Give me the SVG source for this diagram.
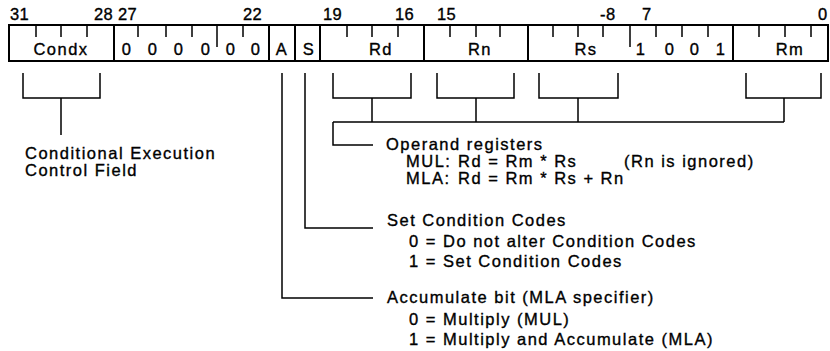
<svg xmlns="http://www.w3.org/2000/svg" width="830" height="351" viewBox="0 0 830 351">
<style>
text { font-family: "Liberation Sans", Arial, Helvetica, sans-serif; font-size: 16.5px; fill: #000; stroke: #000; stroke-width: 0.35px; letter-spacing: 1.5px; }
.num { letter-spacing: 0.4px; }
.c { text-anchor: middle; }
.box { fill: #fff; stroke: #000; stroke-width: 2; }
.div { stroke: #000; stroke-width: 2; }
.tick { stroke: #000; stroke-width: 1.5; }
.ln { fill: none; stroke: #000; stroke-width: 1.5; }
</style>
<rect width="830" height="351" fill="#fff"/>

<g id="bit-numbers">
  <text class="num" x="10" y="20">31</text>
  <text class="num" x="94" y="20">28</text>
  <text class="num" x="118" y="20">27</text>
  <text class="num" x="243" y="20">22</text>
  <text class="num" x="323" y="20">19</text>
  <text class="num" x="395" y="20">16</text>
  <text class="num" x="437" y="20">15</text>
  <text class="num" x="600" y="20">-8</text>
  <text class="num" x="642" y="20">7</text>
  <text class="num" x="818" y="20">0</text>
</g>

<g id="register">
  <rect class="box" x="9" y="25" width="819" height="36"/>
  <g id="dividers">
    <line class="div" x1="114" y1="25" x2="114" y2="61"/>
    <line class="div" x1="269" y1="25" x2="269" y2="61"/>
    <line class="div" x1="295" y1="25" x2="295" y2="61"/>
    <line class="div" x1="320" y1="25" x2="320" y2="61"/>
    <line class="div" x1="424" y1="25" x2="424" y2="61"/>
    <line class="div" x1="528" y1="25" x2="528" y2="61"/>
    <line class="div" x1="733" y1="25" x2="733" y2="61"/>
  </g>
  <path id="ticks" class="tick" d="M36,25V37 M61,25V37 M87,25V37 M138,25V37 M166,25V37 M192,25V37 M217,25V47 M243,25V37 M347,25V37 M372,25V37 M398,25V37 M450,25V37 M476,25V37 M500,25V37 M553,25V37 M578,25V37 M603,25V37 M630,25V47 M656,25V37 M682,25V37 M708,25V37 M759,25V37 M785,25V37 M811,25V37"/>
  <g id="field-condx"><text class="c" x="61" y="55">Condx</text></g>
  <g id="field-zeros">
    <text class="c" x="127" y="55">0</text>
    <text class="c" x="153" y="55">0</text>
    <text class="c" x="179" y="55">0</text>
    <text class="c" x="206" y="55">0</text>
    <text class="c" x="231" y="55">0</text>
    <text class="c" x="256" y="55">0</text>
  </g>
  <g id="field-a"><text class="c" x="282" y="55">A</text></g>
  <g id="field-s"><text class="c" x="309" y="55">S</text></g>
  <g id="field-rd"><text class="c" x="381" y="55">Rd</text></g>
  <g id="field-rn"><text class="c" x="480" y="55">Rn</text></g>
  <g id="field-rs"><text class="c" x="586" y="55">Rs</text></g>
  <g id="field-1001">
    <text class="c" x="641" y="55">1</text>
    <text class="c" x="670" y="55">0</text>
    <text class="c" x="695" y="55">0</text>
    <text class="c" x="721" y="55">1</text>
  </g>
  <g id="field-rm"><text class="c" x="790" y="55">Rm</text></g>
</g>

<g id="connectors">
  <path class="ln" d="M23,73V98H100V73 M61,98V135"/>
  <path class="ln" d="M333,73V98H411V73 M372,98V122"/>
  <path class="ln" d="M437,73V98H514V73 M476,98V122"/>
  <path class="ln" d="M539,73V98H618V73 M578,98V122"/>
  <path class="ln" d="M746,73V98H821V73 M784,98V122"/>
  <path class="ln" d="M333,122H784 M333,122V145H373"/>
  <path class="ln" d="M305,73V228H373"/>
  <path class="ln" d="M282,73V298H373"/>
</g>

<g id="label-condx">
  <text x="25" y="159">Conditional Execution</text>
  <text x="25" y="176">Control Field</text>
</g>

<g id="label-operands">
  <text x="386" y="150">Operand registers</text>
  <text x="406" y="167">MUL:</text>
  <text x="458" y="167">Rd = Rm * Rs</text>
  <text x="624" y="167">(Rn is ignored)</text>
  <text x="406" y="184">MLA:</text>
  <text x="458" y="184">Rd = Rm * Rs + Rn</text>
</g>

<g id="label-s">
  <text x="387" y="226">Set Condition Codes</text>
  <text x="409" y="247">0 = Do not alter Condition Codes</text>
  <text x="409" y="267">1 = Set Condition Codes</text>
</g>

<g id="label-a">
  <text x="387" y="303">Accumulate bit (MLA specifier)</text>
  <text x="409" y="325">0 = Multiply (MUL)</text>
  <text x="409" y="345">1 = Multiply and Accumulate (MLA)</text>
</g>
</svg>
